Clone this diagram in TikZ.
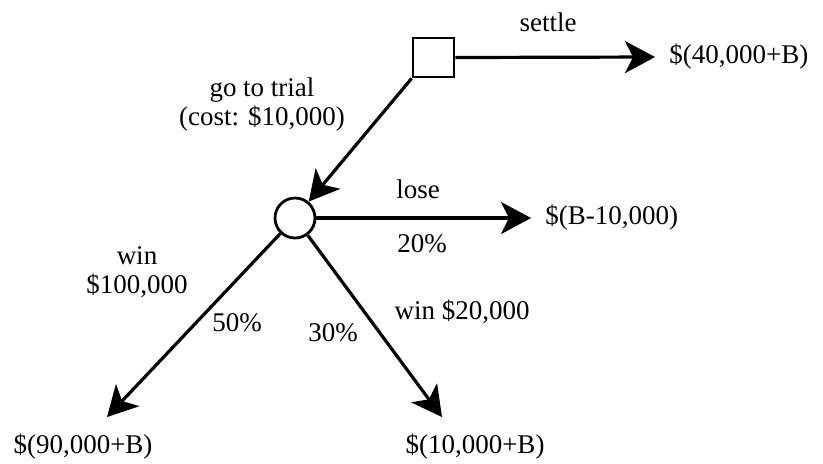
\documentclass[tikz,border=0pt]{standalone}
\usepackage{fontspec}
\setmainfont{Liberation Serif}
\usetikzlibrary{arrows.meta}
\tikzset{
    branch/.style={line width=1.6pt, -{Stealth[length=15pt, width=16pt, inset=4pt]}},
    lbl/.style={font=\fontsize{13.5}{14.5}\selectfont, align=center},
    val/.style={lbl, inner xsep=7pt},
}
\begin{document}
\begin{tikzpicture}[x=0.5pt, y=-0.5pt]
        \useasboundingbox (0,0) rectangle (823,463);

        % Decision and chance nodes
        \node[draw, line width=1.4pt, minimum width=20.5pt, minimum height=19.5pt, inner sep=0pt] (dec) at (433.5,57.5) {};
        \node[draw, circle, line width=1.4pt, minimum size=20pt, inner sep=0pt] (chance) at (295,218) {};

        % Outcomes
        \node[val, anchor=west] (settleval) at (655,57) {\$(40,000+B)};
        \node[val, anchor=west] (loseval) at (531,218) {\$(B-10,000)};
        \node[lbl] (bigwinval) at (83,447) {\$(90,000+B)};
        \node[lbl] (smallwinval) at (475,447) {\$(10,000+B)};
        \coordinate (bigwintip) at (107,417);
        \coordinate (smallwintip) at (442,417);

        % Branches
        \draw[branch] (dec.east) -- (settleval.west);
        \draw[branch] (dec.south west) -- (chance);
        \draw[branch] (chance.east) -- (loseval.west);
        \draw[branch] (chance) -- (bigwintip);
        \draw[branch] (chance) -- (smallwintip);

        % Labels
        \node[lbl] (settlelbl) at (548,22) {settle};
        \node[lbl] (triallbl) at (262,104) {go to trial\\(cost: \$10,000)};
        \node[lbl] (loselbl) at (418,189) {lose};
        \node[lbl] (loseprob) at (422,244) {20\%};
        \node[lbl] (bigwinlbl) at (137,272) {win\\\$100,000};
        \node[lbl] (bigwinprob) at (237,323) {50\%};
        \node[lbl] (smallwinprob) at (333,333) {30\%};
        \node[lbl] (smallwinlbl) at (462,312) {win \$20,000};
    \end{tikzpicture}
\end{document}
